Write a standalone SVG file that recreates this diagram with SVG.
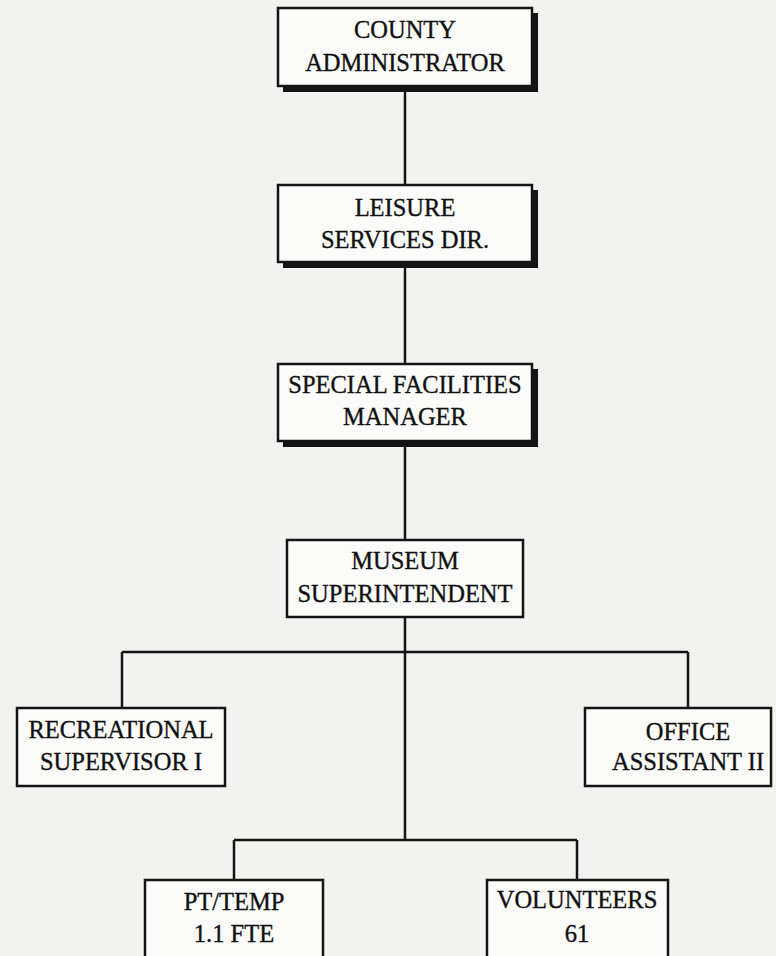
<svg xmlns="http://www.w3.org/2000/svg" width="776" height="956" viewBox="0 0 776 956">
  <style>
    .bg { fill: #f2f2f0; }
    .box { fill: #fbfbfa; stroke: #141414; stroke-width: 2.5; }
    .shadow { fill: #141414; }
    .lbl { font-family: "Liberation Serif", "DejaVu Serif", serif; font-size: 24.5px; fill: #111111; stroke: #111111; stroke-width: 0.35; text-anchor: middle; }
    .wire { stroke: #141414; stroke-width: 2.5; fill: none; }
  </style>
  <rect class="bg" x="0" y="0" width="776" height="956"/>

  <!-- reporting lines -->
  <g id="connectors">
    <line class="wire" x1="405" y1="86" x2="405" y2="185"/>
    <line class="wire" x1="405" y1="262" x2="405" y2="364"/>
    <line class="wire" x1="405" y1="441" x2="405" y2="540"/>
    <line class="wire" x1="405" y1="617" x2="405" y2="840"/>
    <line class="wire" x1="122" y1="652" x2="688" y2="652"/>
    <line class="wire" x1="122" y1="652" x2="122" y2="708"/>
    <line class="wire" x1="688" y1="652" x2="688" y2="708"/>
    <line class="wire" x1="234" y1="840" x2="577" y2="840"/>
    <line class="wire" x1="234" y1="840" x2="234" y2="880"/>
    <line class="wire" x1="577" y1="840" x2="577" y2="880"/>
  </g>

  <g id="county-administrator">
    <rect class="shadow" x="283" y="13" width="255" height="79"/>
    <rect class="box" x="278" y="8" width="254" height="78"/>
    <text class="lbl" x="405" y="38">COUNTY</text>
    <text class="lbl" x="405" y="71">ADMINISTRATOR</text>
  </g>

  <g id="leisure-services-dir">
    <rect class="shadow" x="283" y="190" width="255" height="78"/>
    <rect class="box" x="278" y="185" width="254" height="77"/>
    <text class="lbl" x="405" y="216">LEISURE</text>
    <text class="lbl" x="405" y="248">SERVICES DIR.</text>
  </g>

  <g id="special-facilities-manager">
    <rect class="shadow" x="283" y="369" width="255" height="78"/>
    <rect class="box" x="278" y="364" width="254" height="77"/>
    <text class="lbl" x="405" y="393">SPECIAL FACILITIES</text>
    <text class="lbl" x="405" y="425">MANAGER</text>
  </g>

  <g id="museum-superintendent">
    <rect class="box" x="287" y="540" width="236" height="77"/>
    <text class="lbl" x="405" y="569">MUSEUM</text>
    <text class="lbl" x="405" y="602">SUPERINTENDENT</text>
  </g>

  <g id="recreational-supervisor">
    <rect class="box" x="17" y="708" width="208" height="78"/>
    <text class="lbl" x="121" y="738">RECREATIONAL</text>
    <text class="lbl" x="121" y="770">SUPERVISOR I</text>
  </g>

  <g id="office-assistant">
    <rect class="box" x="585" y="708" width="186" height="78"/>
    <text class="lbl" x="688" y="740">OFFICE</text>
    <text class="lbl" x="688" y="770">ASSISTANT II</text>
  </g>

  <g id="pt-temp">
    <rect class="box" x="145" y="880" width="178" height="90"/>
    <text class="lbl" x="234" y="910">PT/TEMP</text>
    <text class="lbl" x="234" y="942">1.1 FTE</text>
  </g>

  <g id="volunteers">
    <rect class="box" x="487" y="880" width="181" height="90"/>
    <text class="lbl" x="577" y="908">VOLUNTEERS</text>
    <text class="lbl" x="577" y="942">61</text>
  </g>
</svg>
